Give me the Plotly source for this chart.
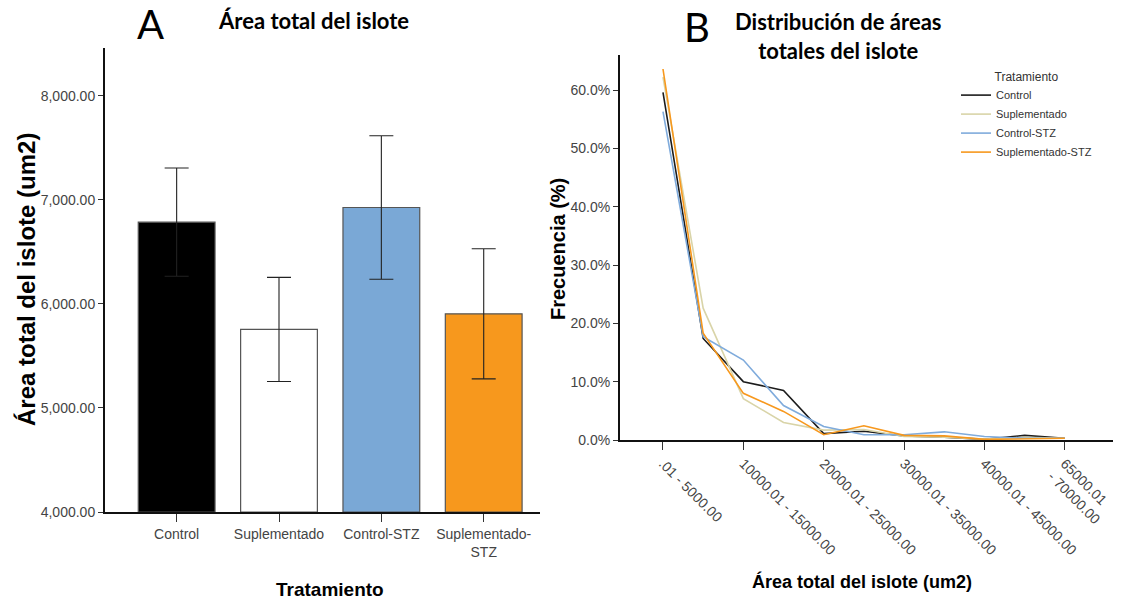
import plotly.graph_objects as go

# ---------------- data ----------------
treatments = ["Control", "Suplementado", "Control-STZ", "Suplementado-STZ"]
treatment_ticks = ["Control", "Suplementado", "Control-STZ", "Suplementado-<br>STZ"]
mean_area = [6786, 5755, 6927, 5905]
err_area = [520, 500, 690, 625]
bar_colors = ["#000000", "#ffffff", "#7aa8d6", "#f7981d"]
area_ticks = [4000, 5000, 6000, 7000, 8000]

bins = [".01 - 5000.00", "5000.01 - 10000.00", "10000.01 - 15000.00", "15000.01 - 20000.00",
        "20000.01 - 25000.00", "25000.01 - 30000.00", "30000.01 - 35000.00", "35000.01 - 40000.00",
        "40000.01 - 45000.00", "45000.01 - 50000.00", "65000.01 - 70000.00"]
bin_ticks = [".01 - 5000.00", "10000.01 - 15000.00", "20000.01 - 25000.00",
             "30000.01 - 35000.00", "40000.01 - 45000.00", "65000.01<br>- 70000.00"]
freq_control = [59.6, 17.4, 10.0, 8.5, 1.1, 1.5, 0.7, 0.5, 0.1, 0.8, 0.3]
freq_supl = [62.2, 22.6, 7.1, 3.0, 1.7, 1.8, 0.6, 0.5, 0.15, 0.45, 0.3]
freq_control_stz = [56.3, 17.7, 13.7, 5.9, 2.3, 0.9, 0.9, 1.4, 0.6, 0.3, 0.3]
freq_supl_stz = [63.6, 18.3, 8.0, 4.9, 0.9, 2.45, 0.8, 0.7, 0.1, 0.2, 0.3]
freq_ticks = [0, 10, 20, 30, 40, 50, 60]
freq_tick_text = ["0.0%", "10.0%", "20.0%", "30.0%", "40.0%", "50.0%", "60.0%"]
series_names = ["Control", "Suplementado", "Control-STZ", "Suplementado-STZ"]
line_colors = ["#1c1c1c", "#d9d4a8", "#7fabdc", "#f7981d"]

W, H = 1121, 610
def px(x):
    return x / W
def py(y):
    return 1 - y / H

NARROW = "Liberation Sans Narrow, Arial Narrow, Liberation Sans"
TICKFONT = dict(family=NARROW, size=14, color="#444444")

fig = go.Figure()

fig.add_trace(go.Bar(
    x=treatments, y=[m - 4000 for m in mean_area], base=4000,
    marker=dict(color=bar_colors, line=dict(color="#555555", width=1.2)),
    width=0.75,
    error_y=dict(type="data", array=err_area, color="#222222", thickness=1.1, width=12),
    xaxis="x", yaxis="y", showlegend=False, hoverinfo="skip",
))

series = [freq_control, freq_supl, freq_control_stz, freq_supl_stz]
for name, vals, col in zip(series_names, series, line_colors):
    fig.add_trace(go.Scatter(
        x=bins, y=vals, mode="lines", name=name,
        line=dict(color=col, width=1.6),
        xaxis="x2", yaxis="y2",
    ))

common = dict(ticks="outside", tickcolor="#333333", tickwidth=1,
              showline=True, linecolor="#111111", linewidth=2,
              showgrid=False, tickfont=TICKFONT, automargin=False)

fig.update_layout(
    width=W, height=H,
    margin=dict(l=0, r=0, t=0, b=0, autoexpand=False),
    paper_bgcolor="white", plot_bgcolor="white",
    xaxis=dict(
        domain=[px(105), px(540)], anchor="y",
        type="category", range=[-0.7, 3.55],
        tickmode="array", tickvals=treatments, ticktext=treatment_ticks,
        ticklen=8, **common,
    ),
    yaxis=dict(
        domain=[py(512), py(48)], anchor="x",
        range=[4000, 8460], tickvals=area_ticks,
        tickformat=",.2f", ticklen=5, zeroline=False, **common,
    ),
    xaxis2=dict(
        domain=[px(620), px(1113)], anchor="y2",
        type="category", range=[-1.07, 11.2],
        tickmode="array", tickvals=[bins[i] for i in (0, 2, 4, 6, 8, 10)], ticktext=bin_ticks,
        tickangle=45, ticklen=8, **common,
    ),
    yaxis2=dict(
        domain=[py(440), py(55)], anchor="x2",
        range=[0, 66], tickmode="array", tickvals=freq_ticks, ticktext=freq_tick_text,
        ticklen=5, zeroline=False, **common,
    ),
    legend=dict(
        x=px(956), y=py(65), xanchor="left", yanchor="top",
        title=dict(text="Tratamiento", side="top center",
                   font=dict(family=NARROW, size=12, color="#333333")),
        font=dict(family=NARROW, size=11, color="#333333"),
        bgcolor="rgba(0,0,0,0)", itemwidth=30, tracegroupgap=0,
    ),
    showlegend=True,
)

TITLE_FONT = dict(family="Lato, Open Sans, sans-serif", size=22, color="black")
annotations = [
    dict(text="A", x=px(150), y=py(24), font=dict(family="Lato, Open Sans", size=40, color="black")),
    dict(text="<b>Área total del islote</b>", x=px(313), y=py(20), font=TITLE_FONT),
    dict(text="B", x=px(697), y=py(27), font=dict(family="Lato, Open Sans", size=40, color="black")),
    dict(text="<b>Distribución de áreas<br>totales del islote</b>", x=px(838), y=py(36), font=TITLE_FONT),
    dict(text="<b>Área total del islote (um2)</b>", x=px(26), y=py(280), textangle=-90,
         font=dict(family="Liberation Sans, Arial", size=24, color="black")),
    dict(text="<b>Frecuencia (%)</b>", x=px(558), y=py(249), textangle=-90,
         font=dict(family="Liberation Sans, Arial", size=20, color="black")),
    dict(text="<b>Tratamiento</b>", x=px(330), y=py(589),
         font=dict(family=NARROW, size=19, color="black")),
    dict(text="<b>Área total del islote (um2)</b>", x=px(862), y=py(581),
         font=dict(family=NARROW, size=18, color="black")),
]
for a in annotations:
    a.update(xref="paper", yref="paper", showarrow=False, xanchor="center", yanchor="middle")
fig.update_layout(annotations=annotations)

fig.write_html("out.html")
